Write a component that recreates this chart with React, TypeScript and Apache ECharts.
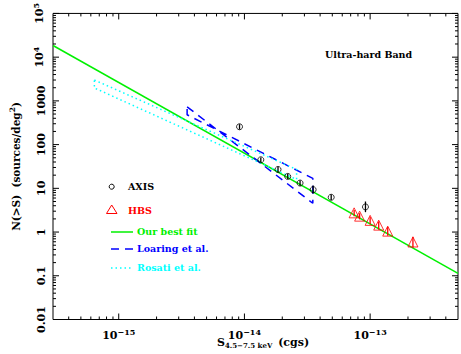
import React, { useEffect, useRef } from "react";
import * as echarts from "echarts";

// ---- axis ranges & ticks ----
const xRange = [3e-16, 5e-13];
const yRange = [0.01, 1e5];
const xMajorTicks = [1e-15, 1e-14, 1e-13];
const xMinorTicks = [
  4e-16, 5e-16, 6e-16, 7e-16, 8e-16, 9e-16,
  2e-15, 3e-15, 4e-15, 5e-15, 6e-15, 7e-15, 8e-15, 9e-15,
  2e-14, 3e-14, 4e-14, 5e-14, 6e-14, 7e-14, 8e-14, 9e-14,
  2e-13, 3e-13, 4e-13,
];
const yMajorTicks = [0.01, 0.1, 1, 10, 100, 1000, 1e4, 1e5];
const yMantissas = [2, 3, 4, 5, 6, 7, 8, 9];

// ---- data ----
const axisFlux = [9.14e-15, 1.35e-14, 1.85e-14, 2.21e-14, 2.77e-14, 3.52e-14, 4.9e-14, 9.18e-14];
const axisN = [256, 44.9, 27.0, 18.7, 13.2, 9.33, 6.24, 3.76];
const axisLo = [222, 39, 23.5, 16.3, 11.5, 7.6, 5.4, 2.85];
const axisHi = [293, 51, 31, 21.5, 15.2, 11.6, 7.2, 5.0];

const hbsFlux = [7.46e-14, 8.25e-14, 1.0e-13, 1.17e-13, 1.38e-13, 2.19e-13];
const hbsN = [2.75, 2.31, 1.85, 1.44, 1.05, 0.593];
const hbsLo = [2.3, 1.95, 1.5, 1.15, 0.82, 0.44];
const hbsHi = [3.2, 2.7, 2.2, 1.75, 1.3, 0.78];

const fitLine = [[3e-16, 18500], [5e-13, 0.114]];
// Loaring et al. bow-tie: steep edge, right cap, flat edge, left cap
const loaringBowtie = [
  [3.5e-15, 731], [3.5e-14, 4.56], [3.5e-14, 16.9], [3.5e-15, 481], [3.5e-15, 731],
];
// Rosati et al. band: upper edge, right cap, lower edge, left cap
const rosatiBand = [
  [6.4e-16, 3000], [2.6e-14, 27], [2.6e-14, 16], [6.4e-16, 1975], [6.4e-16, 3000],
];

const FONT = "DejaVu Serif";

const supLabel = (e: number) => {
  const s = e < 0 ? "\u2212" + Math.abs(e) : String(e);
  return "{b|10}{s|" + s + "}";
};

export default function App() {
  const ref = useRef<HTMLDivElement>(null);
  useEffect(() => {
    if (!ref.current) return;
    const chart = echarts.init(ref.current, undefined, { renderer: "svg" });

    const yMinorTicks: number[] = [];
    yMajorTicks.slice(0, -1).forEach((m) => yMantissas.forEach((k) => yMinorTicks.push(m * k)));

    const xTickData = [
      ...xMajorTicks.map((v) => [v, yRange[0], 1]),
      ...xMinorTicks.map((v) => [v, yRange[0], 0]),
    ];
    const yTickData = [
      ...yMajorTicks.map((v) => [xRange[0], v, 1]),
      ...yMinorTicks.map((v) => [xRange[0], v, 0]),
    ];

    const rich = {
      b: { fontFamily: FONT, fontWeight: "bold", fontSize: 11, color: "#000" },
      s: { fontFamily: FONT, fontWeight: "bold", fontSize: 8, color: "#000", padding: [0, 0, 7, 0] },
    };

    const errSeries = (name: string, xs: number[], lo: number[], hi: number[], color: string) => ({
      type: "custom",
      name,
      coordinateSystem: "cartesian2d",
      silent: true,
      data: xs.map((x, i) => [x, lo[i], hi[i]]),
      encode: { x: 0, y: 1 },
      renderItem: (params: any, api: any) => {
        const a = api.coord([api.value(0), api.value(1)]);
        const b = api.coord([api.value(0), api.value(2)]);
        return {
          type: "line",
          shape: { x1: a[0], y1: a[1], x2: b[0], y2: b[1] },
          style: { stroke: color, lineWidth: 1.3 },
        };
      },
      z: 3,
    });

    const GREEN = "#00f000";

    chart.setOption({
      animation: false,
      grid: {
        left: 44, right: 3, top: 11, bottom: 34.5,
        show: true, borderColor: "#000", borderWidth: 1, backgroundColor: "transparent",
      },
      xAxis: {
        type: "log",
        logBase: 10,
        min: xRange[0],
        max: xRange[1],
        axisLine: { show: false },
        axisTick: { show: false },
        splitLine: { show: false },
        axisLabel: {
          showMinLabel: false,
          showMaxLabel: false,
          margin: 8,
          formatter: (v: number) => supLabel(Math.round(Math.log10(v))),
          rich,
        },
      },
      yAxis: {
        type: "log",
        logBase: 10,
        min: yRange[0],
        max: yRange[1],
        axisLine: { show: false },
        axisTick: { show: false },
        splitLine: { show: false },
        name: "{t|N(>S)  (sources/deg}{s|2}{t|)}",
        nameLocation: "middle",
        nameRotate: 90,
        nameGap: 30,
        nameTextStyle: {
          rich: {
            t: { fontFamily: FONT, fontWeight: "bold", fontSize: 10.5, color: "#000" },
            s: { fontFamily: FONT, fontWeight: "bold", fontSize: 7.5, color: "#000", padding: [0, 0, 7, 0] },
          },
        },
        axisLabel: {
          rotate: 90,
          margin: 6,
          formatter: (v: number) => {
            const e = Math.round(Math.log10(v));
            if (e >= 4) return supLabel(e);
            return "{b|" + (e < 0 ? (e === -1 ? "0.1" : "0.01") : String(Math.pow(10, e))) + "}";
          },
          rich,
        },
      },
      series: [
        {
          type: "custom",
          coordinateSystem: "cartesian2d",
          silent: true,
          data: xTickData,
          encode: { x: 0, y: 1 },
          renderItem: (params: any, api: any) => {
            const p = api.coord([api.value(0), api.value(1)]);
            const cs = params.coordSys;
            const L = api.value(2) ? 6 : 3;
            const st = { stroke: "#000", lineWidth: 1 };
            return {
              type: "group",
              children: [
                { type: "line", shape: { x1: p[0], y1: cs.y + cs.height, x2: p[0], y2: cs.y + cs.height - L }, style: st },
                { type: "line", shape: { x1: p[0], y1: cs.y, x2: p[0], y2: cs.y + L }, style: st },
              ],
            };
          },
        },
        {
          type: "custom",
          coordinateSystem: "cartesian2d",
          silent: true,
          data: yTickData,
          encode: { x: 0, y: 1 },
          renderItem: (params: any, api: any) => {
            const p = api.coord([api.value(0), api.value(1)]);
            const cs = params.coordSys;
            const L = api.value(2) ? 6 : 3;
            const st = { stroke: "#000", lineWidth: 1 };
            return {
              type: "group",
              children: [
                { type: "line", shape: { x1: cs.x, y1: p[1], x2: cs.x + L, y2: p[1] }, style: st },
                { type: "line", shape: { x1: cs.x + cs.width, y1: p[1], x2: cs.x + cs.width - L, y2: p[1] }, style: st },
              ],
            };
          },
        },
        {
          type: "line", name: "Our best fit", data: fitLine, showSymbol: false,
          lineStyle: { color: GREEN, width: 1.5 }, z: 2,
        },
        {
          type: "line", name: "Loaring et al.", data: loaringBowtie, showSymbol: false,
          lineStyle: { color: "#0000ff", width: 1.5, type: [8, 6] }, z: 2,
        },
        {
          type: "line", name: "Rosati et al.", data: rosatiBand, showSymbol: false,
          lineStyle: { color: "#00ffff", width: 1.5, type: [1.5, 3] }, z: 2,
        },
        errSeries("AXIS err", axisFlux, axisLo, axisHi, "#000"),
        errSeries("HBS err", hbsFlux, hbsLo, hbsHi, "#ff0000"),
        {
          type: "scatter", name: "AXIS",
          data: axisFlux.map((x, i) => [x, axisN[i]]),
          symbol: "circle", symbolSize: 6,
          itemStyle: { color: "transparent", borderColor: "#000", borderWidth: 1 }, z: 4,
        },
        {
          type: "scatter", name: "HBS",
          data: hbsFlux.map((x, i) => [x, hbsN[i]]),
          symbol: "triangle", symbolSize: 10,
          itemStyle: { color: "transparent", borderColor: "#ff0000", borderWidth: 1 }, z: 4,
        },
      ],
      graphic: [
        { type: "text", left: 325, top: 49, style: { text: "Ultra-hard Band", font: `bold 9.5px "${FONT}"`, fill: "#000" } },
        { type: "circle", shape: { cx: 111.7, cy: 186.7, r: 2.5 }, style: { fill: "none", stroke: "#000", lineWidth: 1 } },
        { type: "text", left: 128, top: 181, style: { text: "AXIS", font: `bold 9.5px "${FONT}"`, fill: "#000" } },
        { type: "polygon", shape: { points: [[111.7, 205], [106.5, 213.5], [117, 213.5]] }, style: { fill: "none", stroke: "#ff0000", lineWidth: 1 } },
        { type: "text", left: 128, top: 205, style: { text: "HBS", font: `bold 9.5px "${FONT}"`, fill: "#ff0000" } },
        { type: "line", shape: { x1: 111, y1: 232, x2: 133, y2: 232 }, style: { stroke: GREEN, lineWidth: 1.5 } },
        { type: "text", left: 137, top: 226, style: { text: "Our best fit", font: `bold 9.5px "${FONT}"`, fill: GREEN } },
        { type: "line", shape: { x1: 111, y1: 249, x2: 133, y2: 249 }, style: { stroke: "#0000ff", lineWidth: 1.5, lineDash: [8, 6] } },
        { type: "text", left: 137, top: 243, style: { text: "Loaring et al.", font: `bold 9.5px "${FONT}"`, fill: "#0000ff" } },
        { type: "line", shape: { x1: 111, y1: 268, x2: 133, y2: 268 }, style: { stroke: "#00ffff", lineWidth: 1.5, lineDash: [1.5, 3] } },
        { type: "text", left: 137, top: 262, style: { text: "Rosati et al.", font: `bold 9.5px "${FONT}"`, fill: "#00ffff" } },
        {
          type: "text", left: 217, top: 337,
          style: {
            text: "{m|S}{sub|4.5\u22127.5 keV}{m| (cgs)}",
            rich: {
              m: { fontFamily: FONT, fontWeight: "bold", fontSize: 11, color: "#000" },
              sub: { fontFamily: FONT, fontWeight: "bold", fontSize: 7, color: "#000", padding: [6, 2, 0, 0] },
            },
          },
        },
      ],
    });
    return () => chart.dispose();
  }, []);
  return (
    <div
      ref={ref}
      style={{ position: "fixed", left: 0, top: 0, width: 461, height: 354, background: "#fff" }}
    />
  );
}
